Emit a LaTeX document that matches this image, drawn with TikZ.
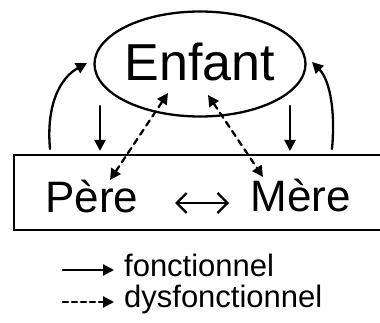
\documentclass[tikz,border=0pt]{standalone}
\usepackage{fontspec}
\setmainfont{Liberation Sans}
\usetikzlibrary{shapes.geometric,arrows.meta}
\begin{document}
\begin{tikzpicture}[x=1pt,y=-1pt,
  line width=2.3pt, line cap=round,
  tip/.style={-{Triangle[length=11pt,width=11pt]}},
  dtip/.style={{Triangle[length=11pt,width=11pt]}-{Triangle[length=11pt,width=11pt]}},
  dashline/.style={dash pattern=on 6pt off 5pt},
  lbl/.style={inner sep=0pt, text=black},
]
\path[use as bounding box] (0,0) rectangle (380,323);
\clip (0,0) rectangle (380,323);
% Enfant
\node[ellipse, draw, minimum width=211pt, minimum height=105pt, inner sep=0pt] (enfant) at (200,64) {};
\node[lbl, font=\fontsize{52}{52}\selectfont] (enfanttext) at (200,62) {Enfant};
% family box
\node[draw, rectangle, minimum width=380pt, minimum height=75pt, anchor=north west, inner sep=0pt] (famille) at (13,154) {};
\node[lbl, font=\fontsize{44}{44}\selectfont] (pere) at (92,197) {Père};
\node[lbl, font=\fontsize{44}{44}\selectfont] (mere) at (301,196) {Mère};
\coordinate (pm1) at (175,203);
\coordinate (pm2) at (229,203);
\draw[{Straight Barb[length=10pt,width=20pt]}-{Straight Barb[length=10pt,width=20pt]}] (pm1) -- (pm2);
% curved arrows
\coordinate (la) at (50,149);
\coordinate (lb) at (87,63);
\coordinate (ra) at (332,149);
\coordinate (rb) at (312,62);
\draw[tip] (la) .. controls (46,105) and (60,78) .. (lb);
\draw[tip] (ra) .. controls (336,105) and (328,78) .. (rb);
% down arrows
\coordinate (d1a) at (100,106);
\coordinate (d1b) at (100,151);
\coordinate (d2a) at (290,106);
\coordinate (d2b) at (290,151);
\draw[tip] (d1a) -- (d1b);
\draw[tip] (d2a) -- (d2b);
% dashed arrows
\coordinate (p1) at (110,180);
\coordinate (e1) at (168,93);
\coordinate (e2) at (208,95);
\coordinate (m1) at (263,177);
\draw[dtip, dashline] (p1) -- (e1);
\draw[dtip, dashline] (e2) -- (m1);
% legend
\coordinate (s1) at (63,270);
\coordinate (s2) at (114,270);
\coordinate (t1) at (63,302);
\coordinate (t2) at (114,302);
\draw[tip] (s1) -- (s2);
\draw[tip, dash pattern=on 5pt off 4pt] (t1) -- (t2);
\node[lbl, anchor=west, font=\fontsize{31}{31}\selectfont] (fonc) at (123,265) {fonctionnel};
\node[lbl, anchor=west, font=\fontsize{31}{31}\selectfont] (dysf) at (123,299) {dysfonctionnel};
\end{tikzpicture}
\end{document}
